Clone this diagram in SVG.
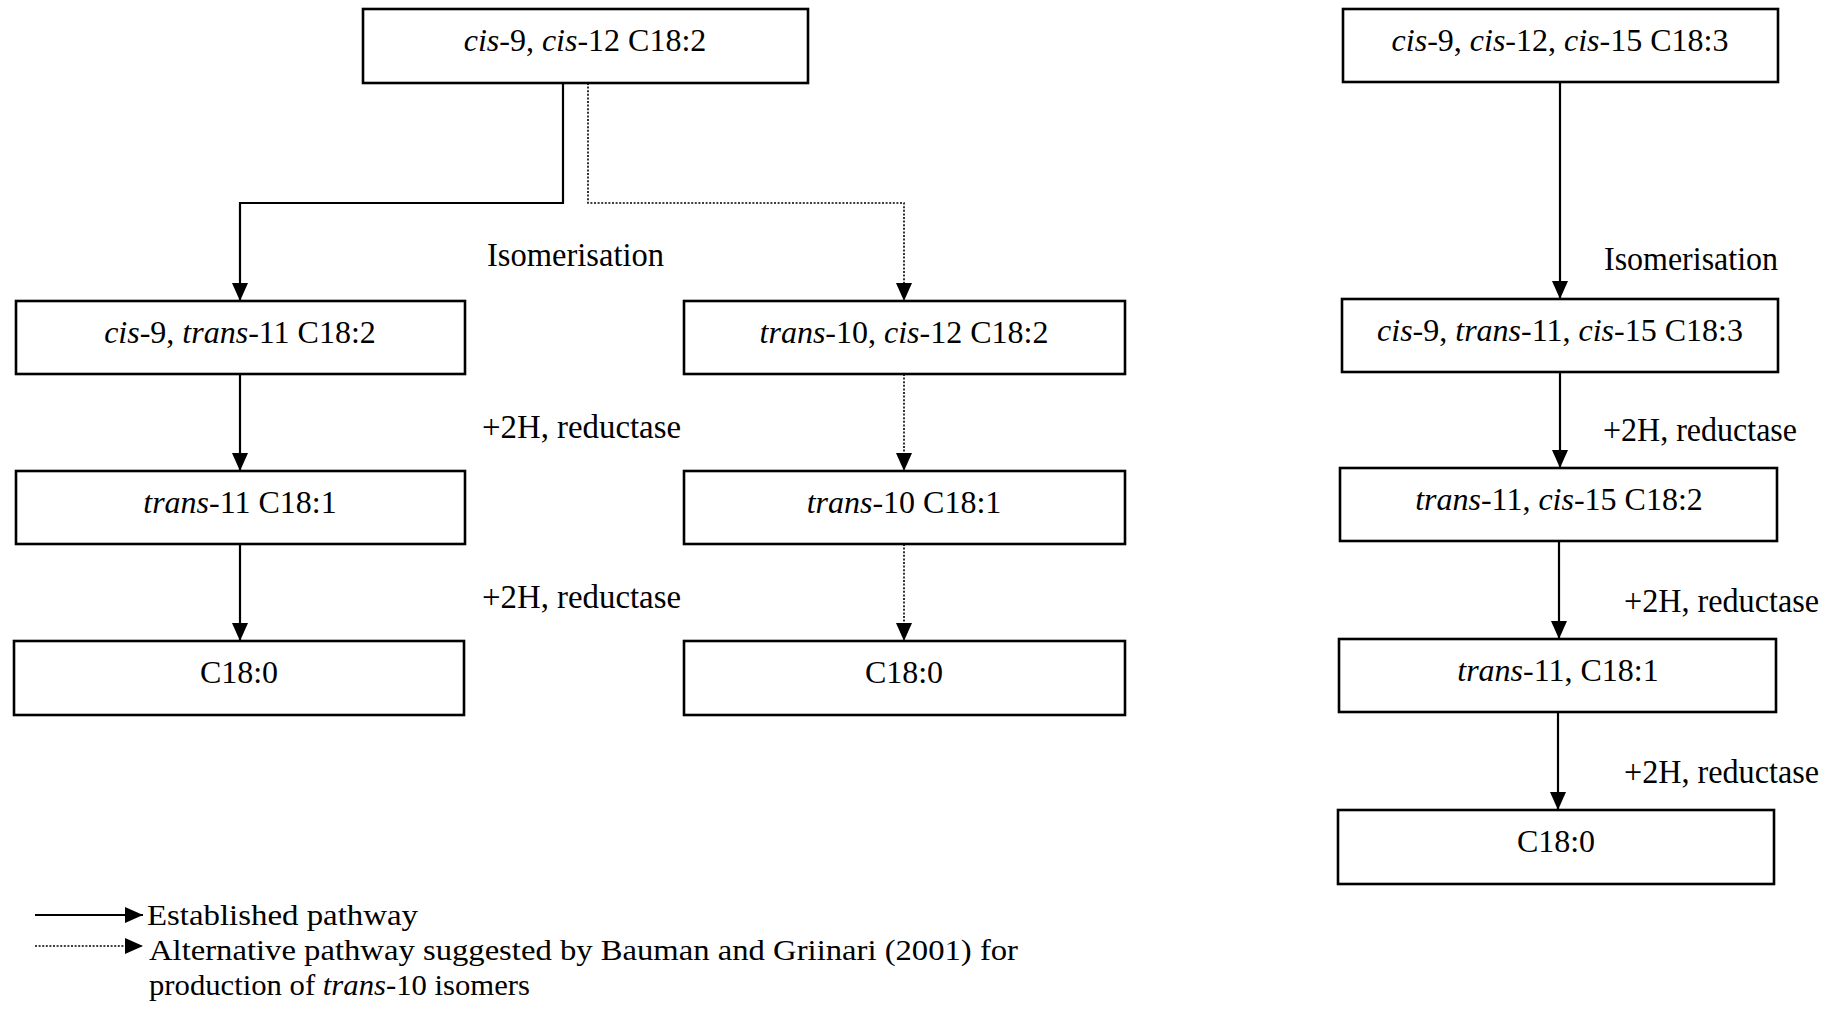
<svg xmlns="http://www.w3.org/2000/svg" width="1839" height="1010" viewBox="0 0 1839 1010">
  <style>
    .box { fill: #ffffff; stroke: #000000; stroke-width: 2.6; }
    .t { font-family: "Liberation Serif", "Times New Roman", serif; font-size: 32px; fill: #000000; }
    .c { text-anchor: middle; }
    .lbl { font-family: "Liberation Serif", "Times New Roman", serif; font-size: 34px; fill: #000000; }
    .key { font-family: "Liberation Serif", "Times New Roman", serif; font-size: 30px; fill: #000000; }
    .it { font-style: italic; }
    .solid { fill: none; stroke: #000000; stroke-width: 2.2; marker-end: url(#head); }
    .dot { fill: none; stroke: #000000; stroke-width: 1.6; stroke-dasharray: 2 1.6; marker-end: url(#head); }
  </style>
  <defs>
    <marker id="head" viewBox="0 0 18 16" markerUnits="userSpaceOnUse" markerWidth="18" markerHeight="16" refX="18" refY="8" orient="auto">
      <path d="M0,0 L18,8 L0,16 z" fill="#000000"/>
    </marker>
  </defs>
  <rect width="1839" height="1010" fill="#ffffff"/>

  <!-- connectors -->
  <g id="connectors">
    <path class="solid" d="M563,83 V203 H240 V301"/>
    <path class="dot" d="M588,83 V203 H904 V301"/>
    <path class="solid" d="M240,374 V471"/>
    <path class="solid" d="M240,544 V641"/>
    <path class="dot" d="M904,374 V471"/>
    <path class="dot" d="M904,544 V641"/>
    <path class="solid" d="M1560,82 V299"/>
    <path class="solid" d="M1560,372 V468"/>
    <path class="solid" d="M1559,541 V639"/>
    <path class="solid" d="M1558,712 V810"/>
  </g>

  <!-- linoleic acid branch -->
  <g id="la">
    <rect class="box" x="363" y="9" width="445" height="74"/>
    <text class="t c" x="585" y="51"><tspan class="it">cis</tspan>-9, <tspan class="it">cis</tspan>-12 C18:2</text>
  </g>
  <g id="la-c9t11">
    <rect class="box" x="16" y="301" width="449" height="73"/>
    <text class="t c" x="240" y="343"><tspan class="it">cis</tspan>-9, <tspan class="it">trans</tspan>-11 C18:2</text>
  </g>
  <g id="la-t11">
    <rect class="box" x="16" y="471" width="449" height="73"/>
    <text class="t c" x="240" y="513"><tspan class="it">trans</tspan>-11 C18:1</text>
  </g>
  <g id="la-stearic">
    <rect class="box" x="14" y="641" width="450" height="74"/>
    <text class="t c" x="239" y="683">C18:0</text>
  </g>
  <g id="la-t10c12">
    <rect class="box" x="684" y="301" width="441" height="73"/>
    <text class="t c" x="904" y="343"><tspan class="it">trans</tspan>-10, <tspan class="it">cis</tspan>-12 C18:2</text>
  </g>
  <g id="la-t10">
    <rect class="box" x="684" y="471" width="441" height="73"/>
    <text class="t c" x="904" y="513"><tspan class="it">trans</tspan>-10 C18:1</text>
  </g>
  <g id="la-stearic-alt">
    <rect class="box" x="684" y="641" width="441" height="74"/>
    <text class="t c" x="904" y="683">C18:0</text>
  </g>

  <!-- linolenic acid branch -->
  <g id="lna">
    <rect class="box" x="1343" y="9" width="435" height="73"/>
    <text class="t c" x="1560" y="51"><tspan class="it">cis</tspan>-9, <tspan class="it">cis</tspan>-12, <tspan class="it">cis</tspan>-15 C18:3</text>
  </g>
  <g id="lna-c9t11c15">
    <rect class="box" x="1342" y="299" width="436" height="73"/>
    <text class="t c" x="1560" y="341"><tspan class="it">cis</tspan>-9, <tspan class="it">trans</tspan>-11, <tspan class="it">cis</tspan>-15 C18:3</text>
  </g>
  <g id="lna-t11c15">
    <rect class="box" x="1340" y="468" width="437" height="73"/>
    <text class="t c" x="1559" y="510"><tspan class="it">trans</tspan>-11, <tspan class="it">cis</tspan>-15 C18:2</text>
  </g>
  <g id="lna-t11">
    <rect class="box" x="1339" y="639" width="437" height="73"/>
    <text class="t c" x="1558" y="681"><tspan class="it">trans</tspan>-11, C18:1</text>
  </g>
  <g id="lna-stearic">
    <rect class="box" x="1338" y="810" width="436" height="74"/>
    <text class="t c" x="1556" y="852">C18:0</text>
  </g>

  <!-- step labels -->
  <g id="labels">
    <text class="lbl" x="487" y="266" textLength="177" lengthAdjust="spacingAndGlyphs">Isomerisation</text>
    <text class="lbl" x="482" y="438" textLength="199" lengthAdjust="spacingAndGlyphs">+2H, reductase</text>
    <text class="lbl" x="482" y="608" textLength="199" lengthAdjust="spacingAndGlyphs">+2H, reductase</text>
    <text class="lbl" x="1604" y="270" textLength="174" lengthAdjust="spacingAndGlyphs">Isomerisation</text>
    <text class="lbl" x="1603" y="441" textLength="194" lengthAdjust="spacingAndGlyphs">+2H, reductase</text>
    <text class="lbl" x="1624" y="612" textLength="195" lengthAdjust="spacingAndGlyphs">+2H, reductase</text>
    <text class="lbl" x="1624" y="783" textLength="195" lengthAdjust="spacingAndGlyphs">+2H, reductase</text>
  </g>

  <!-- key -->
  <g id="legend">
    <path class="solid" d="M35,915 H143"/>
    <path class="dot" d="M35,946 H143"/>
    <text class="key" x="147" y="925" textLength="271" lengthAdjust="spacingAndGlyphs">Established pathway</text>
    <text class="key" x="149" y="960" textLength="869" lengthAdjust="spacingAndGlyphs">Alternative pathway suggested by Bauman and Griinari (2001) for</text>
    <text class="key" x="149" y="995" textLength="381" lengthAdjust="spacingAndGlyphs">production of <tspan class="it">trans</tspan>-10 isomers</text>
  </g>
</svg>
